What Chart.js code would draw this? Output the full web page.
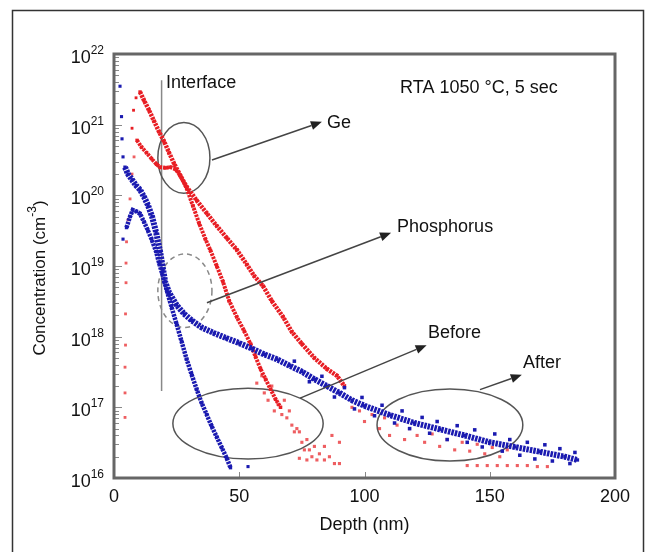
<!DOCTYPE html>
<html>
<head>
<meta charset="utf-8">
<title>Ge and P depth profiles</title>
<script src="https://cdn.jsdelivr.net/npm/chart.js@4.4.0/dist/chart.umd.min.js"></script>
<style>
  html, body { margin: 0; padding: 0; background: #fff; }
</style>
</head>
<body>
<canvas id="chart" width="645" height="552"></canvas>
<script>
// SIMS profiles: depth in nm, concentration in cm^-3.
// "before" = as implanted, "after" = RTA 1050 C, 5 s.

// Ge, before anneal
const geBeforeRiseDepth = [4.4, 4.4, 4.4, 4.6, 4.6, 4.8, 4.8, 5.0, 5.6, 6.4, 7.2, 8.0];
const geBeforeRiseConc = [7.2e16, 1.6e17, 3.7e17, 7.6e17, 2.1e18, 5.8e18, 1.1e19, 2.2e19, 4.5e19, 8.9e19, 2.0e20, 3.5e20];
const geBeforeDepth = [9.2, 11, 13, 15, 17, 18.4, 20.5, 22.5, 24.5, 26.5, 29, 31.5, 34, 36.5, 38.5, 41, 43.5, 46, 49, 52, 54.5, 56.5, 58.5, 60.5, 62.5, 64.5, 66.5];
const geBeforeConc = [6.0e20, 4.8e20, 4.0e20, 3.3e20, 2.75e20, 2.5e20, 2.45e20, 2.5e20, 2.35e20, 1.9e20, 1.26e20, 7.1e19, 4.0e19, 2.4e19, 1.66e19, 1.0e19, 6.0e18, 3.2e18, 1.9e18, 1.2e18, 7.9e17, 5.2e17, 3.5e17, 2.5e17, 1.8e17, 1.3e17, 1.0e17];
const geBeforeTailDepth = [57, 59, 60, 61.5, 63, 64, 65.5, 67, 68, 69, 70, 71, 72, 73, 74, 74, 75, 76, 77, 77, 78, 79, 80, 81, 82, 84, 84, 86, 87, 88, 90, 90];
const geBeforeTailConc = [2.2e17, 2.8e17, 1.6e17, 1.26e17, 2.0e17, 8.9e16, 1.1e17, 7.9e16, 1.26e17, 7.1e16, 8.9e16, 5.6e16, 4.5e16, 5.0e16, 4.5e16, 1.9e16, 3.2e16, 2.5e16, 3.5e16, 1.8e16, 2.5e16, 2.0e16, 2.8e16, 1.8e16, 2.2e16, 1.8e16, 2.8e16, 2.0e16, 4.0e16, 1.6e16, 1.6e16, 3.2e16];

// Ge, after anneal
const geAfterRiseDepth = [7.2, 7.8, 8.8];
const geAfterRiseConc = [8.9e20, 1.6e21, 2.4e21];
const geAfterDepth = [10.4, 12, 14, 16, 18, 20, 22, 24, 26.5, 29, 33, 37, 41, 45, 49, 53, 56, 59.5, 63, 67.5, 71, 75, 80, 85, 89, 92];
const geAfterConc = [2.9e21, 2.2e21, 1.6e21, 1.12e21, 7.9e20, 5.8e20, 4.0e20, 2.8e20, 1.9e20, 1.32e20, 8.5e19, 5.6e19, 3.7e19, 2.5e19, 1.7e19, 1.05e19, 7.2e18, 5.2e18, 3.2e18, 1.9e18, 1.17e18, 7.9e17, 5.0e17, 3.5e17, 2.8e17, 2.0e17];
const geAfterTailDepth = [95, 98, 100, 103, 106, 108, 110, 113, 116, 118, 121, 124, 127, 130, 133, 136, 139, 142, 145, 148, 151, 154, 157, 141, 145, 149, 153, 157, 161, 165, 169, 173];
const geAfterTailConc = [1.0e17, 8.9e16, 6.3e16, 7.9e16, 5.0e16, 7.1e16, 4.0e16, 5.6e16, 3.5e16, 5.0e16, 4.0e16, 3.2e16, 4.2e16, 2.8e16, 3.5e16, 2.5e16, 3.2e16, 2.4e16, 3.0e16, 2.2e16, 2.7e16, 2.0e16, 2.5e16, 1.5e16, 1.5e16, 1.5e16, 1.5e16, 1.5e16, 1.5e16, 1.5e16, 1.45e16, 1.45e16];

// Phosphorus, before anneal
const pBeforeDepth = [5.0, 6.4, 7.5, 9.0, 10.4, 12, 13.5, 15, 16.8, 18, 19.2, 21, 23, 25, 27, 29, 31, 33, 35, 37, 39, 41, 43, 45, 46.5];
const pBeforeConc = [3.5e19, 5.0e19, 6.2e19, 5.9e19, 5.5e19, 4.2e19, 3.2e19, 2.4e19, 1.6e19, 1.1e19, 7.9e18, 4.6e18, 2.6e18, 1.5e18, 8.5e17, 4.8e17, 2.9e17, 1.8e17, 1.15e17, 7.9e16, 5.4e16, 3.8e16, 2.7e16, 1.9e16, 1.4e16];
const pBeforeStrayDepth = [3.6, 53.5];
const pBeforeStrayConc = [2.4e19, 1.45e16];

// Phosphorus, after anneal
const pAfterSurfDepth = [2.4, 3.0, 3.2, 3.6];
const pAfterSurfConc = [3.5e21, 1.3e21, 6.3e20, 3.5e20];
const pAfterDepth = [4.4, 5.6, 7.2, 8.8, 10.4, 12, 13.6, 15.2, 16.8, 18.4, 19.6, 20.4, 22, 25, 28, 31, 35, 40, 45, 50, 55, 60, 65, 70, 75, 80, 85, 90, 95, 100, 110, 120, 130, 140, 150, 160, 170, 180, 185];
const pAfterConc = [2.5e20, 2.0e20, 1.66e20, 1.38e20, 1.2e20, 9.5e19, 7.2e19, 5.0e19, 3.0e19, 1.6e19, 8.9e18, 6.0e18, 4.2e18, 2.8e18, 2.1e18, 1.7e18, 1.35e18, 1.12e18, 9.5e17, 8.1e17, 6.8e17, 5.6e17, 4.8e17, 3.9e17, 3.2e17, 2.5e17, 2.0e17, 1.6e17, 1.26e17, 1.05e17, 7.8e16, 6.0e16, 4.9e16, 4.0e16, 3.2e16, 2.75e16, 2.35e16, 2.0e16, 1.8e16];
const pAfterBandDepth = [72, 78, 83, 88, 92, 96, 99, 104, 107, 112, 115, 118, 123, 126, 129, 133, 137, 141, 144, 147, 152, 155, 158, 162, 165, 168, 172, 175, 178, 182, 184];
const pAfterBandConc = [4.5e17, 2.3e17, 2.75e17, 1.4e17, 1.9e17, 9.5e16, 1.38e17, 7.6e16, 1.07e17, 6.0e16, 8.9e16, 5.0e16, 7.2e16, 4.3e16, 6.3e16, 3.5e16, 5.5e16, 3.2e16, 4.8e16, 2.75e16, 4.2e16, 2.4e16, 3.5e16, 2.1e16, 3.2e16, 1.86e16, 2.95e16, 1.74e16, 2.6e16, 1.6e16, 2.3e16];

// axis ticks
const xTickValues = [0, 50, 100, 150, 200];
const yDecades = [16, 17, 18, 19, 20, 21, 22];

// annotations, in data units (depth nm, log10 concentration)
const notes = {
  interfaceLine: { x: 19, from: 21.63, to: 17.23 },
  ellipses: [
    { cx: 27.9, cy: 20.53, rx: 10.4, ry: 0.5, dashed: false },
    { cx: 28.3, cy: 18.65, rx: 10.8, ry: 0.52, dashed: true },
    { cx: 53.5, cy: 16.77, rx: 30, ry: 0.5, dashed: false },
    { cx: 134.1, cy: 16.75, rx: 29.1, ry: 0.51, dashed: false }
  ],
  arrows: [
    { x1: 39.1, y1: 20.5, x2: 83, y2: 21.04 },
    { x1: 37.1, y1: 18.48, x2: 110.6, y2: 19.47 },
    { x1: 74.3, y1: 17.13, x2: 124.8, y2: 17.88 },
    { x1: 146.1, y1: 17.25, x2: 162.8, y2: 17.46 }
  ],
  labels: [
    { text: 'Interface', x: 20.8, y: 21.52 },
    { text: 'RTA 1050 \u00B0C, 5 sec', x: 114.2, y: 21.45 },
    { text: 'Ge', x: 85.0, y: 20.95 },
    { text: 'Phosphorus', x: 113, y: 19.48 },
    { text: 'Before', x: 125.3, y: 17.98 },
    { text: 'After', x: 163.3, y: 17.56 }
  ]
};

const FONT = '"Liberation Sans", Arial, Helvetica, sans-serif';
const RED = 'rgb(232,30,36)';
const RED_LIGHT = 'rgba(232,40,44,0.75)';
const BLUE = 'rgb(26,26,176)';

const toPoints = (xs, ys) => xs.map((x, i) => ({ x: x, y: ys[i] }));

// dense SIMS traces: a thick, slightly broken line with square dots on the read points
function lineSet(label, xs, ys, color, width) {
  return {
    label: label,
    data: toPoints(xs, ys),
    showLine: true,
    borderColor: color,
    borderWidth: width,
    borderDash: [2.5, 1],
    backgroundColor: color,
    pointRadius: 2.4,
    pointStyle: 'rect',
    pointBorderWidth: 0,
    tension: 0
  };
}

function dotSet(label, xs, ys, color, r) {
  return {
    label: label,
    data: toPoints(xs, ys),
    showLine: false,
    backgroundColor: color,
    borderColor: color,
    pointRadius: r,
    pointStyle: 'rect',
    pointBorderWidth: 0
  };
}

const ctx = document.getElementById('chart').getContext('2d');

const decor = {
  id: 'decor',
  beforeDatasetsDraw(chart) {
    const c = chart.ctx;
    const x = chart.scales.x, y = chart.scales.y;
    const px = v => x.getPixelForValue(v);
    const py = l => y.getPixelForValue(Math.pow(10, l));
    c.save();
    // interface marker
    c.strokeStyle = '#888';
    c.lineWidth = 1.5;
    c.beginPath();
    c.moveTo(px(notes.interfaceLine.x), py(notes.interfaceLine.from));
    c.lineTo(px(notes.interfaceLine.x), py(notes.interfaceLine.to));
    c.stroke();
    // ellipses
    notes.ellipses.forEach(e => {
      const cx = px(e.cx), cy = py(e.cy);
      const rx = px(e.cx + e.rx) - cx;
      const ry = cy - py(e.cy + e.ry);
      c.strokeStyle = e.dashed ? '#888' : '#555';
      c.lineWidth = 1.5;
      c.setLineDash(e.dashed ? [5, 4] : []);
      c.beginPath();
      c.ellipse(cx, cy, rx, ry, 0, 0, Math.PI * 2);
      c.stroke();
    });
    c.restore();
  },
  afterDatasetsDraw(chart) {
    const c = chart.ctx;
    const x = chart.scales.x, y = chart.scales.y;
    const px = v => x.getPixelForValue(v);
    const py = l => y.getPixelForValue(Math.pow(10, l));
    c.save();
    notes.arrows.forEach(a => {
      const x1 = px(a.x1), y1 = py(a.y1), x2 = px(a.x2), y2 = py(a.y2);
      const ang = Math.atan2(y2 - y1, x2 - x1);
      const head = 11, half = 4.5;
      const bx = x2 - head * Math.cos(ang), by = y2 - head * Math.sin(ang);
      c.strokeStyle = '#444';
      c.lineWidth = 1.5;
      c.beginPath();
      c.moveTo(x1, y1);
      c.lineTo(bx, by);
      c.stroke();
      c.fillStyle = '#222';
      c.beginPath();
      c.moveTo(x2, y2);
      c.lineTo(bx + half * Math.sin(ang), by - half * Math.cos(ang));
      c.lineTo(bx - half * Math.sin(ang), by + half * Math.cos(ang));
      c.closePath();
      c.fill();
    });
    c.fillStyle = '#111';
    c.font = '18px ' + FONT;
    c.textAlign = 'left';
    c.textBaseline = 'alphabetic';
    notes.labels.forEach(t => c.fillText(t.text, px(t.x), py(t.y)));
    c.restore();
  },
  afterDraw(chart) {
    const c = chart.ctx;
    const a = chart.chartArea;
    const x = chart.scales.x, y = chart.scales.y;
    c.save();
    // outer figure border
    c.strokeStyle = '#333';
    c.lineWidth = 1.5;
    c.strokeRect(12.5, 10.5, 631, 600);
    // log minor/major ticks on the left axis
    c.strokeStyle = '#888';
    c.lineWidth = 1;
    for (let n = yDecades[0]; n < yDecades[yDecades.length - 1]; n++) {
      for (let k = 2; k <= 9; k++) {
        const yy = Math.round(y.getPixelForValue(k * Math.pow(10, n))) + 0.5;
        c.beginPath();
        c.moveTo(a.left, yy);
        c.lineTo(a.left + 5, yy);
        c.stroke();
      }
    }
    yDecades.forEach(n => {
      const yy = Math.round(y.getPixelForValue(Math.pow(10, n))) + 0.5;
      c.beginPath();
      c.moveTo(a.left, yy);
      c.lineTo(a.left + 8, yy);
      c.stroke();
    });
    xTickValues.forEach(v => {
      const xx = Math.round(x.getPixelForValue(v)) + 0.5;
      c.beginPath();
      c.moveTo(xx, a.bottom);
      c.lineTo(xx, a.bottom - 6);
      c.stroke();
    });
    // plot frame
    c.strokeStyle = '#666';
    c.lineWidth = 3;
    c.strokeRect(a.left, a.top, a.right - a.left, a.bottom - a.top);
    // y tick labels as 10 with raised exponent
    c.fillStyle = '#111';
    c.textBaseline = 'alphabetic';
    c.textAlign = 'left';
    y.ticks.forEach(t => {
      const n = Math.round(Math.log10(t.value));
      if (Math.abs(Math.log10(t.value) - n) > 1e-6) return;
      const yy = y.getPixelForValue(t.value);
      const exp = String(n);
      c.font = '12px ' + FONT;
      const ew = c.measureText(exp).width;
      c.font = '18px ' + FONT;
      const bw = c.measureText('10').width;
      const right = a.left - 10;
      c.fillText('10', right - ew - bw, yy + 9);
      c.font = '12px ' + FONT;
      c.fillText(exp, right - ew, yy);
    });
    // y axis title with superscript
    c.translate(40, 278);
    c.rotate(-Math.PI / 2);
    const main = 'Concentration (cm';
    c.font = '17px ' + FONT;
    const mw = c.measureText(main).width;
    c.font = '12px ' + FONT;
    const sw = c.measureText('-3').width;
    c.font = '17px ' + FONT;
    const cw = c.measureText(')').width;
    const start = -(mw + sw + cw) / 2;
    c.textBaseline = 'middle';
    c.fillText(main, start, 0);
    c.font = '12px ' + FONT;
    c.fillText('-3', start + mw, -7);
    c.font = '17px ' + FONT;
    c.fillText(')', start + mw + sw, 0);
    c.restore();
  }
};

new Chart(ctx, {
  type: 'scatter',
  data: {
    datasets: [
      lineSet('P after', pAfterDepth, pAfterConc, BLUE, 6),
      dotSet('P after band', pAfterBandDepth, pAfterBandConc, BLUE, 2.5),
      dotSet('P after surface', pAfterSurfDepth, pAfterSurfConc, BLUE, 2.2),
      lineSet('P before', pBeforeDepth, pBeforeConc, BLUE, 4.5),
      dotSet('P before stray', pBeforeStrayDepth, pBeforeStrayConc, BLUE, 2.2),
      lineSet('Ge after', geAfterDepth, geAfterConc, RED, 4.5),
      dotSet('Ge after rise', geAfterRiseDepth, geAfterRiseConc, RED, 2),
      dotSet('Ge after tail', geAfterTailDepth, geAfterTailConc, RED_LIGHT, 2.2),
      lineSet('Ge before', geBeforeDepth, geBeforeConc, RED, 4),
      dotSet('Ge before rise', geBeforeRiseDepth, geBeforeRiseConc, RED_LIGHT, 2),
      dotSet('Ge before tail', geBeforeTailDepth, geBeforeTailConc, RED_LIGHT, 2.2)
    ]
  },
  options: {
    responsive: false,
    animation: false,
    events: [],
    layout: { padding: { left: 114, top: 54, right: 30, bottom: 0 } },
    plugins: {
      legend: { display: false },
      tooltip: { enabled: false }
    },
    scales: {
      x: {
        type: 'linear',
        min: 0,
        max: 200,
        afterFit: s => { s.height = 74; },
        afterBuildTicks: s => { s.ticks = xTickValues.map(v => ({ value: v })); },
        grid: { display: false, drawTicks: false },
        border: { display: false },
        ticks: {
          padding: 8,
          color: '#111',
          font: { family: FONT, size: 18 }
        },
        title: {
          display: true,
          text: 'Depth (nm)',
          color: '#111',
          font: { family: FONT, size: 18 },
          padding: { top: 0, bottom: 16 }
        }
      },
      y: {
        type: 'logarithmic',
        min: 1e16,
        max: 1e22,
        afterFit: s => { s.width = 0; },
        afterBuildTicks: s => { s.ticks = yDecades.map(n => ({ value: Math.pow(10, n) })); },
        grid: { display: false, drawTicks: false },
        border: { display: false },
        ticks: { display: false }
      }
    }
  },
  plugins: [decor]
});
</script>
</body>
</html>
